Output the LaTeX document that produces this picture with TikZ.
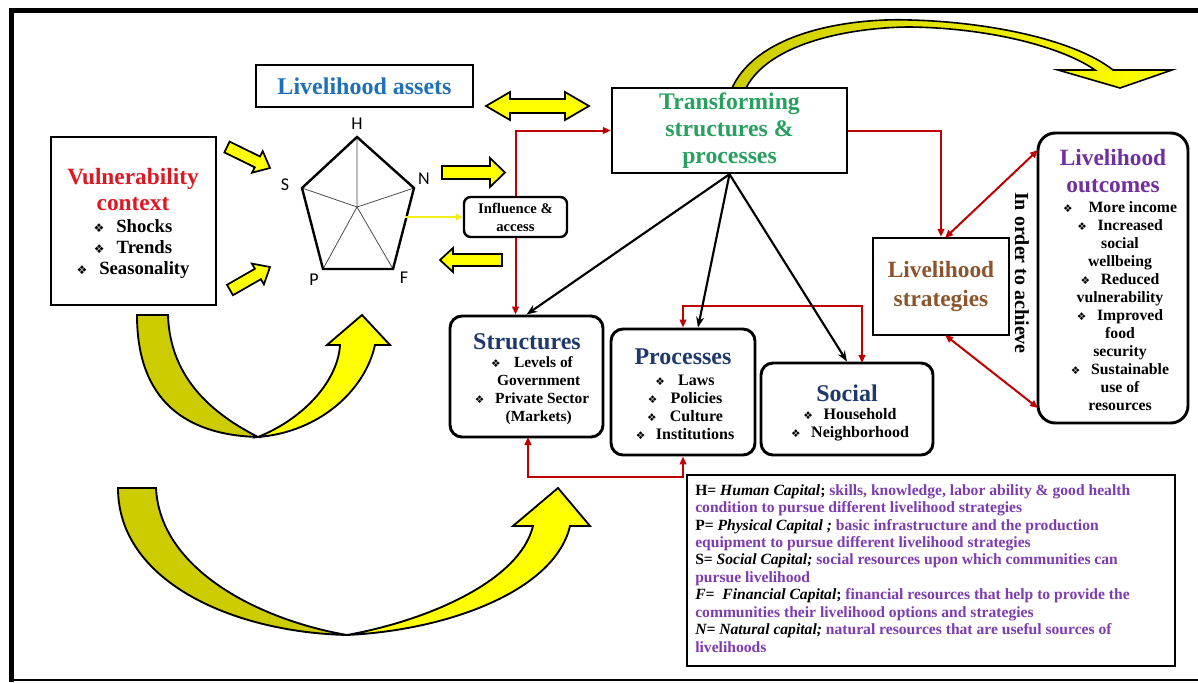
\documentclass[tikz,border=0pt]{standalone}
\usepackage{fontspec}
\setmainfont{Liberation Serif}
\newfontfamily\sansfont{Carlito}
\newfontfamily\bulfont{DejaVu Sans}
\usetikzlibrary{arrows.meta,calc}
\definecolor{assetsblue}{RGB}{31,112,185}
\definecolor{vred}{RGB}{220,25,35}
\definecolor{tgreen}{RGB}{40,160,95}
\definecolor{sbrown}{RGB}{140,85,45}
\definecolor{opurple}{RGB}{112,48,160}
\definecolor{navy}{RGB}{31,56,110}
\definecolor{lpurple}{RGB}{125,60,175}
\definecolor{redline}{RGB}{192,0,0}
\definecolor{byellow}{RGB}{255,255,0}
\definecolor{dkyellow}{RGB}{204,204,0}
\definecolor{lyellow}{RGB}{240,240,20}
\newcommand\px[1]{#1*0.75pt}
\newcommand\bul[1][8]{{\bulfont\fontsize{#1}{#1}\selectfont ❖}}
\newcommand\pur[1]{\textcolor{lpurple}{#1}}
\newcommand\bi[1]{{\bfseries\itshape #1}}
\tikzset{
 box/.style={draw, line width=1.8pt, inner sep=0pt, fill=white},
 rbox/.style={box, rounded corners=9pt, line width=2.2pt},
 ttl/.style={font=\bfseries\fontsize{18}{20}\selectfont, align=center, inner sep=0pt},
 itm/.style={font=\bfseries\fontsize{12}{13.5}\selectfont, align=center, inner sep=0pt},
 redarr/.style={draw=redline, line width=1.5pt, -{Triangle[length=6pt,width=5pt]}},
 redboth/.style={draw=redline, line width=1.5pt, {Triangle[length=6pt,width=5pt]}-{Triangle[length=6pt,width=5pt]}},
 blkarr/.style={draw=black, line width=1.6pt, -{Stealth[length=8pt,width=6pt]}},
 yarrow/.style={draw=black, line width=1.3pt, fill=byellow, line join=miter},
 plabel/.style={font=\sansfont\fontsize{13.5}{14}\selectfont, inner sep=0pt},
}
\begin{document}
\begin{tikzpicture}[x=0.75pt,y=-0.75pt]
\useasboundingbox (0,0) rectangle (1198,682);
\fill[white] (0,0) rectangle (1198,682);
% frame
\draw[line width=3.75pt] (11.5,682) -- (11.5,10.5) -- (1198,10.5);
\draw[line width=1.2pt] (11,680) -- (1198,680);

% big U arrows
\fill[dkyellow, draw=black, line width=1.4pt] (137,315) .. controls (137,400) and (185,435) .. (258,437) .. controls (215,415) and (170,380) .. (168,315) -- cycle;
\fill[byellow, draw=black, line width=1.4pt, line join=miter] (258,437) .. controls (320,432) and (365,390) .. (375,345) -- (390,345) -- (362,315) -- (327,345) -- (340,345) .. controls (338,380) and (305,418) .. (258,437) -- cycle;

\fill[dkyellow, draw=black, line width=1.4pt] (118,488) .. controls (118,580) and (230,632) .. (347,635) .. controls (260,620) and (160,570) .. (156,488) -- cycle;
\fill[byellow, draw=black, line width=1.4pt, line join=miter] (347,635) .. controls (450,630) and (555,590) .. (570,526) -- (590,526) -- (558,488) -- (513,526) -- (533,526) .. controls (520,580) and (430,620) .. (347,635) -- cycle;

% top curved arrow
\shade[left color=dkyellow, right color=byellow, draw=black, line width=1.2pt, line join=miter]
 (732,88) .. controls (760,28) and (860,18) .. (910,20) .. controls (990,22) and (1075,40) .. (1113,70)
 -- (1172,70) -- (1120,88) -- (1058,70) -- (1095,70)
 .. controls (1062,47) and (990,28) .. (910,27) .. controls (865,27) and (772,38) .. (746,88) -- cycle;

% small yellow block arrows
\draw[yarrow] (229.6,141.6) -- (260.0,156.5) -- (262.7,151.1) -- (270,168) -- (252.1,172.7) -- (254.8,167.3) -- (224.4,152.4) -- cycle;
\draw[yarrow] (227.0,284.8) -- (254.9,268.8) -- (251.9,263.6) -- (270,267) -- (263.9,284.4) -- (260.9,279.2) -- (233.0,295.2) -- cycle;
\draw[yarrow] (442,166) -- (490,166) -- (490,158) -- (505,172.5) -- (490,187) -- (490,179) -- (442,179) -- cycle;
\draw[yarrow] (502,254) -- (453,254) -- (453,248) -- (440,260) -- (453,272) -- (453,266) -- (502,266) -- cycle;
\draw[yarrow] (486,106) -- (510,92) -- (510,99) -- (565,99) -- (565,92) -- (589,106) -- (565,120) -- (565,113) -- (510,113) -- (510,120) -- cycle;

% pentagon
\coordinate (pH) at (357,137);
\coordinate (pN) at (414,188);
\coordinate (pF) at (393,269);
\coordinate (pP) at (323,269);
\coordinate (pS) at (302,188);
\coordinate (pO) at (357,207);
\draw[black!70, line width=0.6pt] (pO) -- (pH) (pO) -- (pN) (pO) -- (pF) (pO) -- (pP) (pO) -- (pS);
\draw[line width=1.8pt, line join=miter] (pH) -- (pN) -- (pF) -- (pP) -- (pS) -- cycle;
\node[plabel] (lH) at (357,124) {H};
\node[plabel] (lS) at (285,185) {S};
\node[plabel] (lN) at (424,179) {N};
\node[plabel] (lP) at (314,280) {P};
\node[plabel] (lF) at (404,278) {F};
\coordinate (pe) at (405,217);

% boxes
\node[box, minimum width=\px{165}, minimum height=\px{168}] (vuln) at (133.5,221) {};
\node[box, minimum width=\px{217}, minimum height=\px{42}, text=assetsblue, font=\bfseries\fontsize{18}{20}\selectfont] (assets) at (364.5,86) {Livelihood assets};
\node[box, minimum width=\px{235}, minimum height=\px{85}, text=tgreen, font=\bfseries\fontsize{17.8}{20}\selectfont, align=center] (trans) at (729.5,130.5) {Transforming\\structures \&\\processes};
\node[box, rounded corners=5pt, minimum width=\px{103}, minimum height=\px{40}, font=\bfseries\fontsize{11}{13.5}\selectfont, align=center] (infl) at (515.5,217) {Influence \&\\access};
\node[box, minimum width=\px{136}, minimum height=\px{97}, text=sbrown, font=\bfseries\fontsize{17.5}{21.5}\selectfont, align=center] (strat) at (941,286.5) {Livelihood\\strategies};
\node[rbox, rounded corners=13pt, minimum width=\px{150}, minimum height=\px{290}] (outc) at (1113,278) {};
\node[rbox, minimum width=\px{153}, minimum height=\px{121}] (struct) at (526.5,376.5) {};
\node[rbox, minimum width=\px{144}, minimum height=\px{126}] (proc) at (683,392) {};
\node[rbox, minimum width=\px{172}, minimum height=\px{92}] (social) at (847,409) {};
\node[box, line width=1.2pt, minimum width=\px{488}, minimum height=\px{191}] (leg) at (931,570.5) {};

% texts in boxes
\node[ttl, text=vred, font=\bfseries\fontsize{17.5}{19.5}\selectfont] (vulnT) at (133,190) {Vulnerability\\context};
\node[itm, font=\bfseries\fontsize{14}{15.4}\selectfont] (vulnI) at (133,249) {\bul[9]\hspace{9pt}Shocks\\\bul[9]\hspace{9pt}Trends\\\bul[9]\hspace{9pt}Seasonality};
\node[ttl, text=opurple, font=\bfseries\fontsize{17.5}{20}\selectfont] (outcT) at (1113,171) {Livelihood\\outcomes};
\node[itm, font=\bfseries\fontsize{11.8}{13.5}\selectfont] (outcI) at (1120,306) {\bul\hspace{12pt}More income\\\bul\hspace{8pt}Increased\\social\\wellbeing\\\bul\hspace{8pt}Reduced\\vulnerability\\\bul\hspace{8pt}Improved\\food\\security\\\bul\hspace{8pt}Sustainable\\use of\\resources};
\node[ttl, text=navy] (structT) at (527,342) {Structures};
\node[itm, font=\bfseries\fontsize{11.6}{13.5}\selectfont] (structI) at (532,391) {\bul\hspace{10pt}Levels of\\\hspace{10pt}Government\\\bul\hspace{8pt}Private Sector\\\hspace{10pt}(Markets)};
\node[ttl, text=navy] (procT) at (683,357) {Processes};
\node[itm] (procI) at (685,407.5) {\bul\hspace{10pt}Laws\\\bul\hspace{10pt}Policies\\\bul\hspace{10pt}Culture\\\bul\hspace{8pt}Institutions};
\node[ttl, text=navy] (socT) at (847,393) {Social};
\node[itm] (socI) at (850,424.5) {\bul\hspace{8pt}Household\\\bul\hspace{8pt}Neighborhood};
\node[font=\bfseries\fontsize{15}{16}\selectfont, rotate=-90, inner sep=0pt] (achieve) at (1022,273) {In order to achieve};
\node[anchor=north west, align=left, inner sep=0pt, font=\bfseries\fontsize{11.7}{13.1}\selectfont] (legT) at (695,484) {%
H= \bi{Human Capital}; \pur{skills, knowledge, labor ability \& good health}\\
\pur{condition to pursue different livelihood strategies}\\
P= \bi{Physical Capital ;} \pur{basic infrastructure and the production}\\
\pur{equipment to pursue different livelihood strategies}\\
S= \bi{Social Capital;} \pur{social resources upon which communities can}\\
\pur{pursue livelihood}\\
\bi{F=~~Financial Capital}; \pur{financial resources that help to provide the}\\
\pur{communities their livelihood options and strategies}\\
\bi{N= Natural capital;} \pur{natural resources that are useful sources of}\\
\pur{livelihoods}};

% connectors
\draw[line width=1.3pt, draw=lyellow, -{Triangle[length=5pt,width=5pt]}] (pe) -- (infl.west);
\draw[redarr] (infl.north) |- (trans.west);
\draw[redarr] (infl.south) -- (infl.south |- struct.north);
\draw[redarr] (trans.east) -| (strat.north);
\coordinate (o1) at (1038,150);
\coordinate (o2) at (1038,408);
\coordinate (sN) at (945,238);
\coordinate (sS) at (945,335);
\draw[redboth] (sN) -- (o1);
\draw[redboth] (sS) -- (o2);
\coordinate (socR) at (862,363);
\draw[redboth] (proc.north) -- ++(0,-22) -| (socR);
\coordinate (structB) at (528,437);
\draw[redboth] (structB) -- ++(0,40) -| (proc.south);
\draw[blkarr] (trans.south) -- (struct.north);
\draw[blkarr] (trans.south) -- ($(proc.north)+(15,0)$);
\draw[blkarr] (trans.south) -- (social.north);
\end{tikzpicture}
\end{document}
